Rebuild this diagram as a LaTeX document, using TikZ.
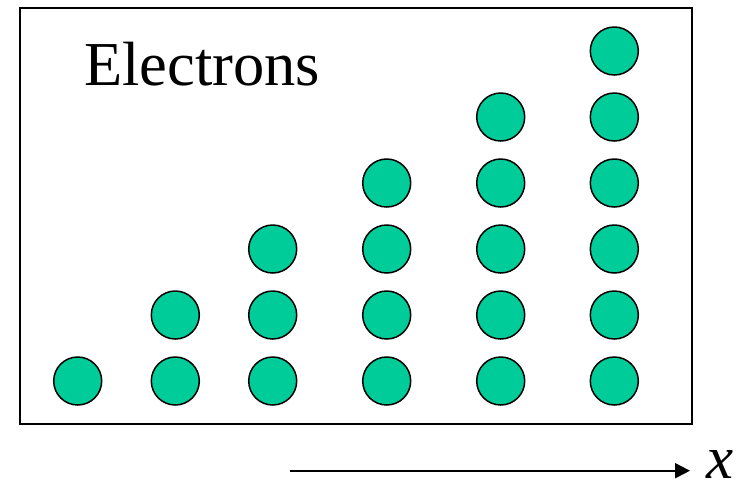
\documentclass[tikz,border=0pt]{standalone}
\usepackage{fontspec}
\setmainfont{Liberation Serif}
\usepackage{tikz}
\usetikzlibrary{arrows.meta}
\usepackage{xcolor}
\definecolor{elgreen}{RGB}{0,204,153}

\begin{document}
\begin{tikzpicture}[x=1pt,y=-1pt,
	electron/.style={circle,draw,line width=1.5pt,fill=elgreen,minimum size=48pt,inner sep=0pt}]
\useasboundingbox (0,0) rectangle (744,483);
\node[draw,line width=2pt,minimum width=672pt,minimum height=416pt,inner sep=0pt,anchor=north west] (box) at (18.5,6.5) {};
\node[anchor=base west,inner sep=0pt] (title) at (84,85) {\fontsize{62.5}{70}\selectfont Electrons};
\foreach \c/\xc in {1/77.7,2/175.3,3/272.7,4/386.7,5/500.7,6/614.3} {
	\foreach \r in {1,...,\c} {
		\node[electron] (e\c\r) at (\xc,{381-66*(\r-1)}) {};
	}
}
\coordinate (xstart) at (290,470.7);
\coordinate (xend) at (690,470.7);
\node[anchor=base west,inner sep=0pt] (xlab) at (706,478) {\fontsize{61}{70}\selectfont\itshape x};
\draw[-{Triangle[length=15pt,width=15pt]},line width=2pt] (xstart) -- (xend);
\end{tikzpicture}
\end{document}
